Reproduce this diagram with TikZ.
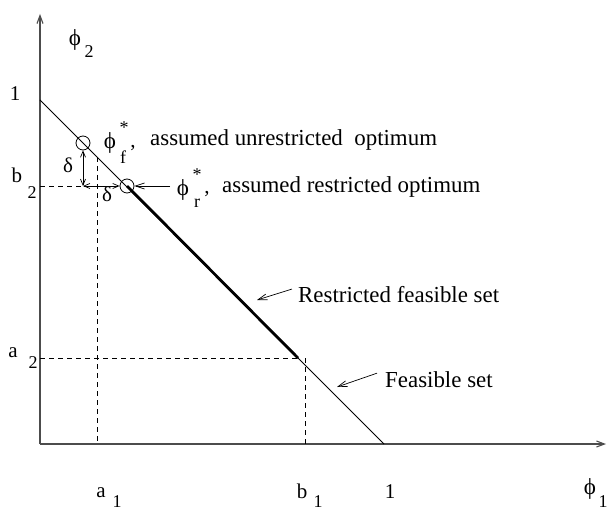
\documentclass[tikz,border=0pt]{standalone}
\usepackage{fontspec}
\setmainfont{Liberation Serif}
\usetikzlibrary{arrows.meta}
\begin{document}
\begin{tikzpicture}[x=1pt,y=-1pt,
 axisline/.style={line width=1.1pt,draw=black!70},
 feas/.style={line width=0.8pt},
 feasthick/.style={line width=2.8pt},
 guide/.style={line width=0.7pt,dash pattern=on 5pt off 4pt},
 ring/.style={circle,draw,line width=0.8pt,minimum size=14pt,inner sep=0pt},
 pointer/.style={line width=0.7pt,-{Straight Barb[length=9pt,width=6pt]}},
 dbl/.style={line width=0.7pt,{Straight Barb[length=6pt,width=5pt]}-{Straight Barb[length=6pt,width=5pt]}},
 lab/.style={inner sep=0pt,font=\fontsize{21}{21}\selectfont},
 phil/.style={inner sep=0pt,font=\fontsize{23}{23}\selectfont},
 sublab/.style={inner sep=0pt,font=\fontsize{18}{18}\selectfont},
 txt/.style={inner sep=0pt,anchor=base west,font=\fontsize{22.9}{22.9}\selectfont}]
\useasboundingbox (0,0) rectangle (607,513);
% axes and geometry
\coordinate (O) at (40,444);
\coordinate (Ytop) at (40,14);
\coordinate (Xend) at (606,444);
\coordinate (Y1) at (40,100);
\coordinate (X1) at (384,444);
\coordinate (C) at (298,358);
\coordinate (A2) at (40,358);
\coordinate (B1top) at (305,358);
\coordinate (B1) at (305,444);
\coordinate (A1top) at (97,157);
\coordinate (A1) at (97,444);
\coordinate (B2) at (40,186);
\coordinate (Dv) at (83,186);
\node[ring] (F) at (83,143) {};
\node[ring] (R) at (127,186) {};
\draw[axisline,-{Straight Barb[length=8pt,width=6pt]}] (O) -- (Ytop);
\draw[axisline,-{Straight Barb[length=8pt,width=6pt]}] (O) -- (Xend);
\draw[guide] (B2) -- (R.west);
\draw[guide] (A2) -- (C);
\draw[guide] (A1top) -- (A1);
\draw[guide] (B1top) -- (B1);
\draw[feas] (Y1) -- (X1);
\draw[feasthick] (R.center) -- (C);
\draw[dbl] (F.south) -- (Dv);
\draw[dbl] (Dv) -- (R.west);
% axis labels
\node[phil] (phiy) at (75,40) {ϕ};
\node[sublab] (phiysub) at (89,52) {2};
\node[lab] (one2) at (15,94) {1};
\node[lab] (b2) at (17,175) {b};
\node[sublab] (b2sub) at (32,193) {2};
\node[lab] (a2) at (13,353) {a};
\node[sublab] (a2sub) at (33,363) {2};
\node[lab] (a1) at (101,493) {a};
\node[sublab] (a1sub) at (117,502) {1};
\node[lab] (b1) at (302,491) {b};
\node[sublab] (b1sub) at (318,502) {1};
\node[lab] (one1) at (390,492) {1};
\node[phil] (phix) at (590,489) {ϕ};
\node[sublab] (phixsub) at (603,502) {1};
% deltas
\node[lab] (dv) at (68,165) {δ};
\node[lab] (dh) at (107,194) {δ};
% optimum labels
\node[phil] (phif) at (110,143) {ϕ};
\node[sublab] (phifs) at (124,128) {*};
\node[sublab] (phiff) at (123,157) {f};
\node[lab] (phifc) at (133,148) {,};
\node[txt] (unres) at (150,146) {assumed unrestricted\ \ optimum};
\node[phil] (phir) at (183,190) {ϕ};
\node[sublab] (phirs) at (197,175) {*};
\node[sublab] (phirr) at (197,203) {r};
\node[lab] (phirc) at (207,194) {,};
\node[txt] (res) at (222,192) {assumed restricted optimum};
\coordinate (ptrR) at (170,186);
\draw[pointer] (ptrR) -- (R.east);
% set labels
\node[txt] (rfs) at (298,302) {Restricted feasible set};
\node[txt] (fs) at (385,387) {Feasible set};
\coordinate (rfsTip) at (257,300);
\coordinate (fsTip) at (337,387);
\draw[pointer] (rfs.west) ++(-6,-5) -- (rfsTip);
\draw[pointer] (fs.west) ++(-8,-6) -- (fsTip);
\end{tikzpicture}
\end{document}
